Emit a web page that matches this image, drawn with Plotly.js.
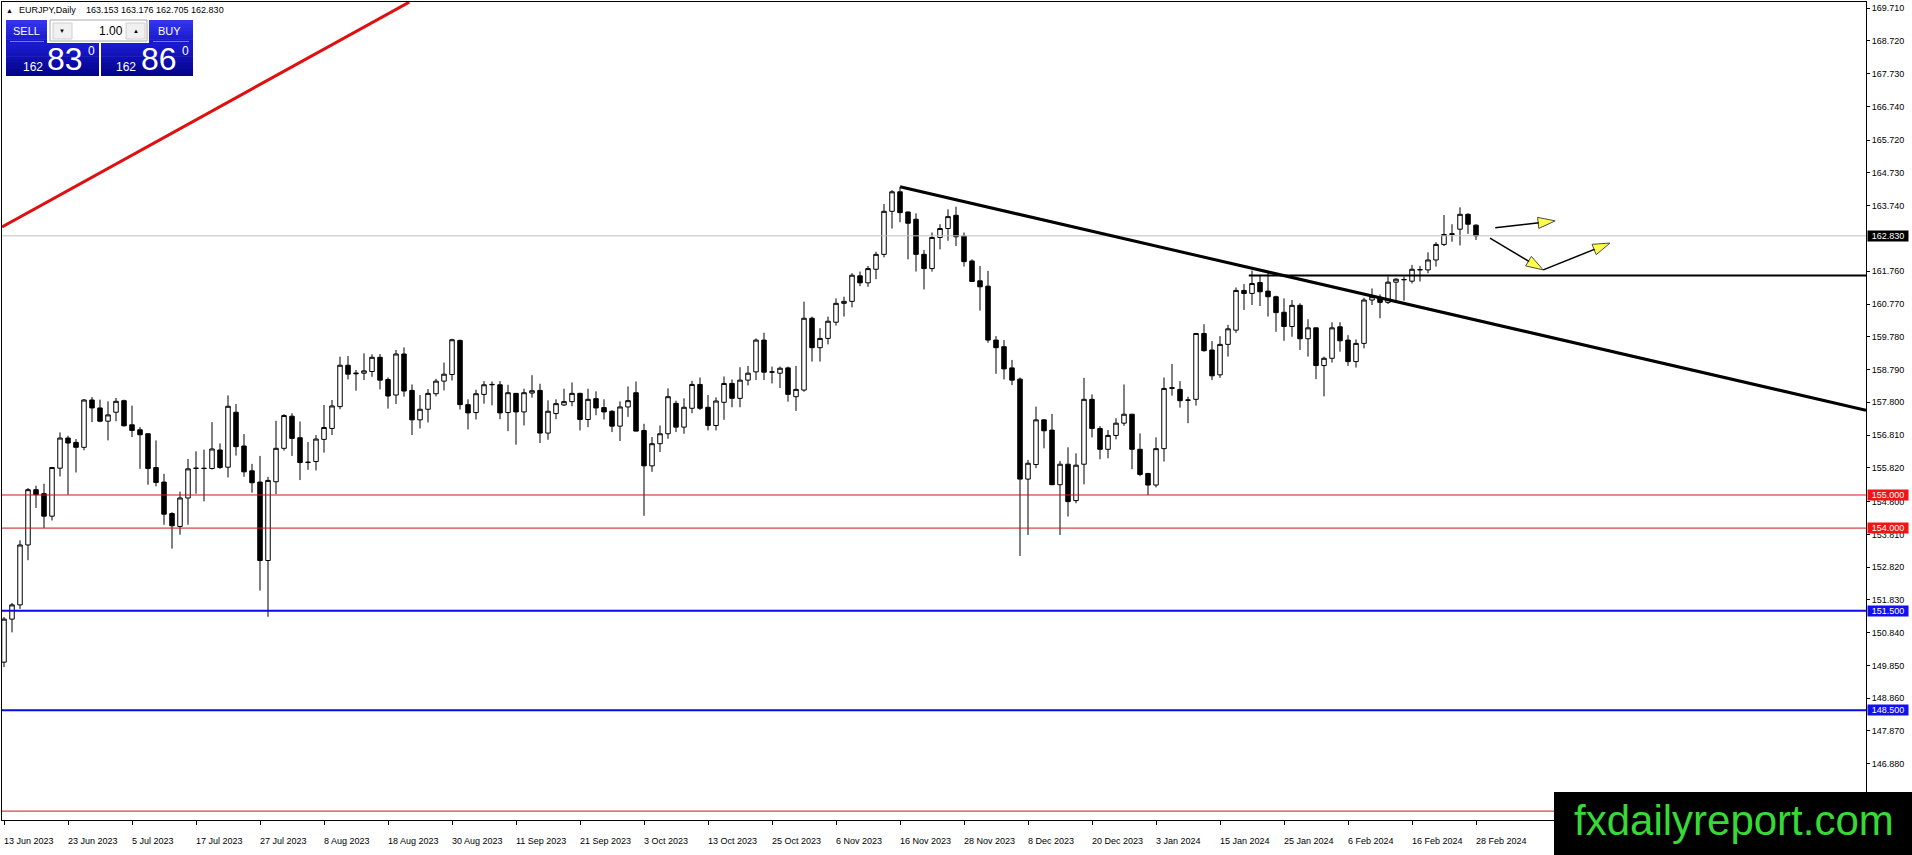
<!DOCTYPE html>
<html><head><meta charset="utf-8">
<script src="https://cdn.plot.ly/plotly-3.0.1.min.js"></script>
<style>html,body{margin:0;padding:0;background:#fff;overflow:hidden}#chart{width:1912px;height:855px}</style>
</head><body><div id="chart"></div>
<script>
// ---------------- DATA (EURJPY daily) ----------------
const openP = [149.95,151.25,151.68,153.49,155.16,155.04,154.36,155.81,156.72,156.59,
156.44,157.87,157.63,157.23,157.50,157.85,157.12,156.97,156.85,155.83,
155.39,154.44,154.05,154.91,155.80,155.81,155.80,156.36,155.84,157.50,
156.48,155.73,155.39,153.02,155.40,156.41,157.38,156.73,155.98,156.01,
156.68,157.01,157.67,158.92,158.66,158.68,158.73,159.16,158.49,158.02,
159.26,158.16,157.27,157.59,158.06,158.44,158.64,159.67,157.73,157.49,
158.04,158.33,158.33,157.49,158.07,157.51,158.08,158.16,156.87,157.46,
157.72,157.82,158.07,157.28,157.91,157.64,157.53,157.08,157.66,158.09,
156.95,155.88,156.55,156.85,157.77,157.05,157.62,158.34,157.65,157.10,
157.80,158.37,157.92,158.47,158.72,159.68,158.71,158.68,158.84,157.97,
158.17,160.34,159.45,159.73,160.22,160.79,160.85,161.62,161.41,161.82,
162.27,163.57,164.16,163.55,163.33,162.27,161.84,162.78,163.05,163.45,
162.82,162.07,161.47,161.31,159.68,159.48,158.84,158.50,155.48,155.92,
157.27,156.96,155.31,155.93,154.83,155.93,157.89,157.01,156.38,156.80,
157.17,157.44,156.38,155.65,155.30,156.40,158.22,158.19,157.86,157.89,
159.88,159.38,158.63,159.55,159.98,161.18,161.09,161.42,161.16,160.99,
160.52,160.09,160.73,159.72,160.05,158.91,159.13,160.08,159.68,159.03,
159.58,160.89,160.97,160.82,161.43,161.50,161.46,161.80,161.80,162.10,
162.57,162.87,163.03,163.48,163.153];
const highP = [151.31,151.74,153.63,155.21,155.28,155.34,155.85,156.89,156.79,156.69,
157.90,157.96,157.88,157.83,157.93,157.88,157.70,157.05,156.87,156.65,
155.64,154.48,155.10,156.09,156.32,156.37,157.20,156.56,158.01,157.75,
156.84,155.94,156.18,155.55,157.24,157.44,157.47,157.22,156.60,156.81,
157.72,157.87,159.18,159.20,158.78,159.28,159.25,159.26,158.55,159.38,
159.46,158.34,158.02,158.20,158.51,159.00,159.72,159.69,157.89,158.18,
158.44,158.43,158.44,158.33,158.08,158.21,158.62,158.36,157.86,157.89,
158.21,158.40,158.09,158.21,158.13,157.89,157.56,157.83,158.28,158.43,
157.15,156.75,157.10,158.22,157.85,157.92,158.45,158.55,158.02,157.95,
158.58,158.49,158.86,158.90,159.73,159.90,158.88,158.88,158.88,158.90,
160.84,160.39,160.04,160.39,160.94,160.99,161.70,161.75,161.92,162.35,
163.79,164.21,164.31,163.56,163.51,162.40,162.93,163.18,163.63,163.71,
162.93,162.12,161.92,161.77,159.80,159.68,159.08,158.55,156.06,157.67,
157.29,157.45,156.03,156.44,156.26,158.54,158.04,157.08,156.96,157.32,
158.34,157.45,156.86,155.67,156.74,158.55,158.96,158.44,157.97,159.89,
160.16,159.65,159.80,160.14,161.27,161.37,161.78,161.65,161.71,161.02,
160.94,160.89,160.79,160.31,160.06,159.18,160.22,160.22,159.83,159.70,
160.96,161.24,161.06,161.60,161.55,161.60,161.95,161.92,162.33,162.64,
163.46,163.18,163.69,163.51,163.176];
const lowP = [149.80,150.85,151.56,153.03,154.61,154.00,154.23,155.56,155.01,155.68,
156.35,157.20,157.20,156.65,157.23,157.07,156.75,155.79,155.31,155.26,
154.10,153.38,153.80,154.10,155.04,154.81,155.77,155.79,155.53,156.19,
155.55,155.07,152.11,151.32,155.03,156.34,156.18,155.45,155.76,155.74,
156.28,156.81,157.59,158.49,158.15,158.47,158.57,158.19,157.61,157.75,
157.97,156.81,157.01,157.19,157.98,158.16,158.46,157.58,156.98,157.28,
157.76,157.71,157.29,156.93,156.52,157.10,157.94,156.57,156.67,157.29,
157.69,157.68,156.95,157.05,157.41,157.28,156.90,156.63,157.36,156.92,
154.37,155.70,156.30,156.70,156.90,156.85,157.47,157.57,156.95,156.95,
157.27,157.65,157.65,158.31,158.47,158.47,158.37,158.23,157.82,157.54,
158.12,159.03,159.03,159.55,160.12,160.39,160.67,161.31,161.29,161.52,
162.18,163.05,163.24,162.12,161.75,161.21,161.75,162.42,162.68,162.52,
161.90,161.44,160.57,159.60,158.66,158.49,158.32,153.16,153.79,155.81,
156.41,155.30,153.79,154.35,154.75,155.32,156.74,156.08,156.11,156.68,
157.09,155.78,155.57,155.00,155.23,156.01,158.00,157.64,157.17,157.70,
159.33,158.47,158.54,159.18,159.90,160.59,160.74,160.71,160.39,159.93,
159.66,159.78,159.38,159.18,158.50,157.98,159.00,159.33,158.90,158.85,
159.43,160.74,160.34,160.77,160.89,160.87,161.39,161.45,161.70,161.90,
162.52,162.65,162.54,162.89,162.705];
const closeP = [151.25,151.68,153.49,155.16,155.01,154.36,155.83,156.72,156.57,156.44,
157.87,157.63,157.23,157.42,157.83,157.09,156.95,156.82,155.80,155.38,
154.42,154.07,154.91,155.79,155.81,155.80,156.39,155.83,157.68,156.46,
155.70,155.37,153.02,155.44,156.41,157.40,156.71,155.98,155.99,156.69,
157.04,157.69,158.92,158.65,158.68,158.75,159.16,158.47,157.99,159.26,
158.14,157.27,157.59,158.07,158.44,158.65,159.69,157.73,157.48,158.06,
158.33,158.34,157.48,158.09,157.51,158.09,158.15,156.87,157.53,157.76,
157.82,158.07,157.28,157.89,157.63,157.51,157.08,157.66,157.85,156.93,
155.88,156.55,156.85,157.97,157.05,157.65,158.34,157.62,157.10,157.84,
158.37,157.92,158.47,158.68,159.68,158.71,158.72,158.83,158.04,158.19,
160.34,159.45,159.73,160.25,160.79,160.85,161.64,161.41,161.84,162.27,
163.57,164.16,163.53,163.21,162.27,161.84,162.78,163.05,163.41,162.80,
162.05,161.45,161.29,159.68,159.45,158.81,158.47,155.48,155.96,157.27,
156.94,155.31,155.93,154.80,155.90,157.89,157.01,156.38,156.80,157.17,
157.44,156.38,155.62,155.30,156.40,158.22,158.24,157.85,157.87,159.88,
159.36,158.60,159.55,160.02,161.18,161.09,161.39,161.14,160.99,160.51,
160.09,160.73,159.72,160.05,158.91,159.13,160.05,159.66,159.03,159.58,
160.89,160.99,160.82,161.43,161.52,161.51,161.82,161.81,162.10,162.57,
162.87,162.89,163.48,163.18,162.830];

const dateLabels = ["13 Jun 2023","23 Jun 2023","5 Jul 2023","17 Jul 2023","27 Jul 2023","8 Aug 2023",
"18 Aug 2023","30 Aug 2023","11 Sep 2023","21 Sep 2023","3 Oct 2023","13 Oct 2023","25 Oct 2023",
"6 Nov 2023","16 Nov 2023","28 Nov 2023","8 Dec 2023","20 Dec 2023","3 Jan 2024","15 Jan 2024",
"25 Jan 2024","6 Feb 2024","16 Feb 2024","28 Feb 2024"];
const barsPerLabel = 8;
const priceTicks = [169.710,168.720,167.730,166.740,165.720,164.730,163.740,161.760,160.770,159.780,
158.790,157.800,156.810,155.820,154.800,153.810,152.820,151.830,150.840,149.850,148.860,147.870,146.880];

const header = {symbol:"EURJPY,Daily", ohlc:"163.153 163.176 162.705 162.830"};
const bidPrice = 162.830;
const askPrice = 162.860;
const lotSize = "1.00";
const redLevels = [155.000, 154.000];
const blueLevels = [151.500, 148.500];
const lowRedLevel = 145.45;
// drawn objects (bar index, price)
const redTrend = {x:[-0.25, 50.65], y:[163.10, 169.89]};
const blackTrend = {x:[112, 232.75], y:[164.31, 157.56]};
const resistLine = {x:[155.6, 232.75], y:[161.63, 161.63]};
const arrowFromX = [186.4, 185.75, 192.4];
const arrowFromY = [163.07, 162.76, 161.80];
const arrowToX   = [193.9, 192.4, 200.75];
const arrowToY   = [163.28, 161.80, 162.61];

// ---------------- LAYOUT HELPERS ----------------
const W=1912,H=855,ML=2,MR=46,MT=2,MB=35;
const PW=W-ML-MR, PH=H-MT-MB;
const px = v => (v-ML)/PW;
const py = v => 1-(v-MT)/PH;
const FONT = 'Liberation Sans, Arial, sans-serif';

const idx = openP.map((_,i)=>i);
const labelIdx = dateLabels.map((_,i)=>i*barsPerLabel);

const shapes = [];
const annotations = [];

function rectPx(x0,y0,x1,y1,fill,lc,lw){
  return {type:'rect',xref:'paper',yref:'paper',x0:px(x0),x1:px(x1),y0:py(y1),y1:py(y0),
    fillcolor:fill,line:{color:lc||fill,width:lw||0},layer:'above'};
}
function lerp(a,b,t){return Math.round(a+(b-a)*t);}
function gradBox(x0,y0,x1,y1,c0,c1,n){
  for(let i=0;i<n;i++){
    const ya=y0+(y1-y0)*i/n, yb=y0+(y1-y0)*(i+1)/n+0.6;
    const t=i/(n-1);
    const c='rgb('+lerp(c0[0],c1[0],t)+','+lerp(c0[1],c1[1],t)+','+lerp(c0[2],c1[2],t)+')';
    shapes.push(rectPx(x0,ya,x1,Math.min(yb,y1),c));
  }
}
function textPx(x,y,text,size,color,anchor,family){
  annotations.push({xref:'paper',yref:'paper',x:px(x),y:py(y),text:text,showarrow:false,
    xanchor:anchor||'left',yanchor:'middle',borderpad:0,
    font:{family:family||FONT,size:size,color:color||'#000'}});
}
function lineShape(x0,y0,x1,y1,color,width){
  shapes.push({type:'line',xref:'x',yref:'y',x0:x0,y0:y0,x1:x1,y1:y1,line:{color:color,width:width},layer:'above'});
}
function hLevel(p,color,width){
  shapes.push({type:'line',xref:'paper',yref:'y',x0:0,x1:1,y0:p,y1:p,line:{color:color,width:width},layer:'above'});
}
function priceBox(p,bg){
  annotations.push({xref:'paper',yref:'y',x:1,y:p,xanchor:'left',yanchor:'middle',xshift:1,
    text:p.toFixed(3),showarrow:false,bgcolor:bg,width:40,height:10,borderpad:0,
    font:{family:FONT,size:9,color:'#fff'}});
}

// level lines
hLevel(bidPrice,'#c0c0c0',1);
redLevels.forEach(p=>hLevel(p,'#c81818',1));
hLevel(lowRedLevel,'#c81818',1);
blueLevels.forEach(p=>hLevel(p,'#0a0ae6',2));
// trend lines
lineShape(redTrend.x[0],redTrend.y[0],redTrend.x[1],redTrend.y[1],'#e01010',3);
lineShape(blackTrend.x[0],blackTrend.y[0],blackTrend.x[1],blackTrend.y[1],'#000',3);
lineShape(resistLine.x[0],resistLine.y[0],resistLine.x[1],resistLine.y[1],'#000',2);

// price boxes on axis
priceBox(bidPrice,'#000');
redLevels.forEach(p=>priceBox(p,'#f01414'));
blueLevels.forEach(p=>priceBox(p,'#1010f0'));

// date labels
dateLabels.forEach((t,i)=>{
  annotations.push({xref:'x',yref:'paper',x:labelIdx[i],y:-(841-(H-MB))/PH,xanchor:'left',yanchor:'middle',
    xshift:-1,text:t,showarrow:false,borderpad:0,font:{family:FONT,size:9,color:'#000'}});
});

// top-left trade panel
textPx(5,10,'▲',7,'#000');
textPx(18,10,header.symbol,9,'#000');
textPx(85,10,header.ohlc,9,'#000');
gradBox(6,20,47,43,[52,52,238],[24,24,200],6);
gradBox(149,20,193,43,[52,52,238],[24,24,200],6);
gradBox(6,43,99,76,[26,26,208],[4,4,140],10);
gradBox(101,43,193,76,[26,26,208],[4,4,140],10);
shapes.push({type:'line',xref:'paper',yref:'paper',x0:px(10),x1:px(44),y0:py(41.5),y1:py(41.5),line:{color:'#7878f0',width:1},layer:'above'});
shapes.push({type:'line',xref:'paper',yref:'paper',x0:px(153),x1:px(189),y0:py(41.5),y1:py(41.5),line:{color:'#7878f0',width:1},layer:'above'});
shapes.push(rectPx(50,20,147,41,'#ffffff','#a8a8a8',1));
shapes.push(rectPx(53,23,72,39,'#f0f0f0','#d0d0d0',1));
shapes.push(rectPx(126,23,145,39,'#f0f0f0','#d0d0d0',1));
textPx(62.5,31,'▼',6,'#000','center');
textPx(135.5,31,'▲',6,'#000','center');
textPx(124,31,lotSize,12,'#000','right');
textPx(26.5,31,'SELL',11,'#fff','center');
textPx(169,31,'BUY',11,'#fff','center');
const bidStr = bidPrice.toFixed(3), askStr = askPrice.toFixed(3);
textPx(22,67,bidStr.slice(0,3),12,'#fff','left');
textPx(46,59,bidStr.slice(4,6),32,'#fff','left');
textPx(87,51,bidStr.slice(6,7),12,'#fff','left');
textPx(115,67,askStr.slice(0,3),12,'#fff','left');
textPx(140,59,askStr.slice(4,6),32,'#fff','left');
textPx(181,51,askStr.slice(6,7),12,'#fff','left');

// watermark
shapes.push(rectPx(1554,792,1912,855,'#000'));
textPx(1734,820,'fxdailyreport.com',42,'#36d936','center');

// ---------------- TRACES ----------------
const traces = [{
  type:'candlestick', x:idx, open:openP, high:highP, low:lowP, close:closeP,
  increasing:{line:{color:'#000',width:1},fillcolor:'#ffffff'},
  decreasing:{line:{color:'#000',width:1},fillcolor:'#000000'},
  whiskerwidth:0, hoverinfo:'skip'
}];
arrowFromX.forEach((_,i)=>{
  traces.push({type:'scatter',mode:'lines+markers',x:[arrowFromX[i],arrowToX[i]],y:[arrowFromY[i],arrowToY[i]],
    line:{color:'#000',width:1.5},
    marker:{symbol:'arrow',angleref:'previous',size:[0,18],color:'#ffff00',line:{color:'#000',width:1}},
    hoverinfo:'skip'});
});

const layout = {
  width:W,height:H,margin:{l:ML,r:MR,t:MT,b:MB,pad:0},
  paper_bgcolor:'#fff',plot_bgcolor:'#fff',showlegend:false,
  boxgap:0.25,boxgroupgap:0.25,
  xaxis:{range:[-0.25,232.75],showgrid:false,zeroline:false,showline:true,mirror:true,
    linecolor:'#000',linewidth:1,ticks:'outside',ticklen:4,tickcolor:'#000',tickwidth:1,
    tickvals:labelIdx,showticklabels:false,rangeslider:{visible:false}},
  yaxis:{range:[145.181,169.894],side:'right',showgrid:false,zeroline:false,showline:true,mirror:true,
    linecolor:'#000',linewidth:1,ticks:'outside',ticklen:3,tickcolor:'#000',tickwidth:1,
    tickvals:priceTicks,ticktext:priceTicks.map(v=>v.toFixed(3)),
    tickfont:{family:FONT,size:9,color:'#000'}},
  shapes:shapes,annotations:annotations
};
Plotly.newPlot('chart',traces,layout,{staticPlot:true});
</script></body></html>
